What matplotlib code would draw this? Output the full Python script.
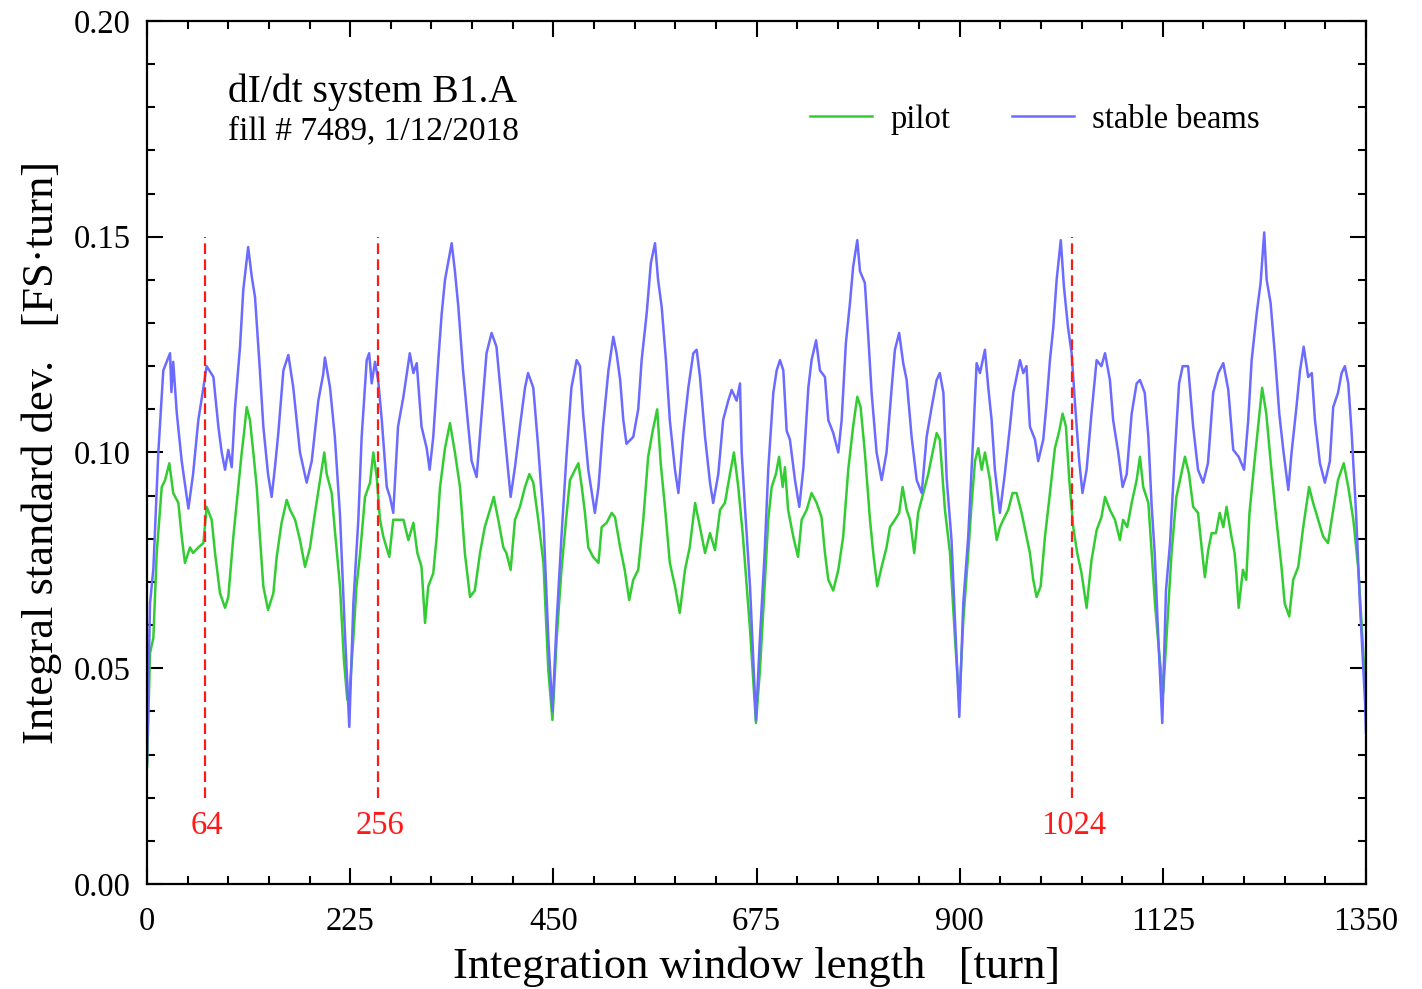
import matplotlib
matplotlib.use("Agg")
import matplotlib.pyplot as plt
from matplotlib.ticker import MultipleLocator

plt.rcParams['font.family'] = ['Liberation Serif', 'DejaVu Serif']

# stable beams (blue)
stable_x = [0, 3.3, 7, 12.5, 18, 25.5, 27, 29, 33, 38.4, 45.8, 51, 56.8, 62.4, 66, 73.5, 79, 82.7,
            86.4, 90, 93.8, 97.5, 103, 106.6, 112, 116, 119.6, 125, 128.8, 134, 138, 141.7, 145.4,
            151, 156.5, 162, 169.4, 176.8, 182.4, 189.7, 195, 197, 202.7, 208, 213.7, 219, 224,
            228.5, 234, 237.7, 243.3, 246, 248.8, 252.5, 256, 260, 265.5, 269, 272.7, 278, 284,
            291, 295, 298.7, 304, 309.7, 313, 317, 322.6, 326.4, 330, 337.4, 341, 344.8, 350,
            355.8, 359.5, 365, 370.6, 376, 381.6, 387, 392.8, 398, 402.7, 407.5, 413, 418.6, 422,
            427.8, 433.3, 439, 444.4, 449, 453.7, 459, 464.8, 470, 475.8, 479.5, 483, 488.7, 496,
            500, 505, 511, 516.4, 520, 524, 527.5, 531, 538.5, 544, 547.8, 553.4, 558, 562.6, 566,
            570, 574.7, 579, 584.7, 588.5, 594, 599.5, 605, 608.7, 612.4, 618, 623.5, 627, 632.7,
            638, 643.7, 647.5, 653, 656.7, 658.6, 662, 667.8, 674.4, 678.8, 684, 688, 693.6, 697.3,
            701, 704.7, 708.4, 712, 717.6, 722.4, 727, 732.4, 736, 741, 745.3, 750.8, 754.5, 760,
            765.6, 769.3, 774, 778.5, 782, 786.6, 789.6, 795, 798.8, 802.5, 808, 813.6, 819, 824.7,
            828.3, 833, 837.5, 841.3, 846.8, 852.4, 858, 863.4, 869, 874.5, 878, 882, 885.6, 891,
            894.8, 899.6, 904, 909.5, 915, 918.8, 922.5, 928, 931.7, 935.4, 939, 944.6, 950, 955.7,
            959.4, 966.8, 970.5, 974, 977.8, 983.4, 987, 992.6, 996.3, 1000, 1003.7, 1007.4, 1012,
            1015.5, 1020, 1024, 1027.7, 1032.4, 1036, 1040.6, 1046, 1051.7, 1057, 1061, 1066.4,
            1070, 1075.6, 1080.5, 1085, 1090.5, 1096, 1099.7, 1105, 1109, 1112.7, 1116, 1120,
            1124.4, 1128.5, 1133, 1138.4, 1143, 1147, 1153, 1158.6, 1164, 1169.7, 1175, 1180.8,
            1186.4, 1192, 1197.5, 1203, 1209, 1215, 1219.6, 1223.4, 1229, 1233.3, 1237.3, 1240,
            1244.4, 1249, 1254, 1258.4, 1264, 1267.6, 1273, 1277, 1281, 1286, 1290, 1293.5, 1299,
            1304.5, 1310, 1313.7, 1319, 1323, 1326.6, 1330.4, 1334, 1339, 1343.3, 1349, 1350]
stable_y = [0.028, 0.065, 0.073, 0.100, 0.119, 0.123, 0.114, 0.121, 0.109, 0.098, 0.087, 0.095,
            0.1075, 0.115, 0.120, 0.1175, 0.106, 0.100, 0.096, 0.1006, 0.0966, 0.1105, 0.1245,
            0.1377, 0.1476, 0.1407, 0.136, 0.119, 0.106, 0.095, 0.0897, 0.0966, 0.1045, 0.119,
            0.1226, 0.115, 0.100, 0.093, 0.098, 0.112, 0.118, 0.122, 0.115, 0.1036, 0.0855, 0.059,
            0.0364, 0.065, 0.0844, 0.1036, 0.1214, 0.123, 0.116, 0.121, 0.1168, 0.1075, 0.092,
            0.0897, 0.086, 0.106, 0.113, 0.123, 0.1184, 0.1207, 0.106, 0.101, 0.096, 0.1036,
            0.1214, 0.1323, 0.140, 0.1485, 0.142, 0.1337, 0.119, 0.106, 0.098, 0.0943, 0.109,
            0.123, 0.1277, 0.1245, 0.1115, 0.100, 0.0897, 0.0966, 0.106, 0.115, 0.1184, 0.115,
            0.101, 0.0844, 0.057, 0.040, 0.061, 0.0805, 0.100, 0.115, 0.1214, 0.120, 0.109, 0.096,
            0.086, 0.092, 0.106, 0.119, 0.1268, 0.123, 0.1168, 0.1075, 0.102, 0.1036, 0.110,
            0.1214, 0.1323, 0.1439, 0.1485, 0.140, 0.1337, 0.1214, 0.1075, 0.096, 0.0906, 0.1045,
            0.115, 0.123, 0.1238, 0.1175, 0.1036, 0.093, 0.0883, 0.095, 0.1075, 0.112, 0.1145,
            0.112, 0.116, 0.100, 0.088, 0.069, 0.038, 0.057, 0.0767, 0.096, 0.1138, 0.119, 0.1214,
            0.119, 0.105, 0.103, 0.0936, 0.0874, 0.0966, 0.115, 0.1214, 0.126, 0.119, 0.1175,
            0.1075, 0.1045, 0.100, 0.1075, 0.1254, 0.1346, 0.143, 0.1492, 0.142, 0.1393, 0.1268,
            0.1138, 0.100, 0.0936, 0.100, 0.115, 0.1238, 0.1277, 0.1207, 0.1168, 0.1036, 0.0936,
            0.0906, 0.1036, 0.1105, 0.1168, 0.1184, 0.1138, 0.094, 0.0797, 0.061, 0.0387, 0.065,
            0.0805, 0.1036, 0.1207, 0.1184, 0.1238, 0.115, 0.1075, 0.096, 0.086, 0.095, 0.106,
            0.1138, 0.1214, 0.1184, 0.120, 0.106, 0.103, 0.098, 0.103, 0.1115, 0.1214, 0.129,
            0.140, 0.1492, 0.1384, 0.129, 0.123, 0.1115, 0.098, 0.0906, 0.096, 0.109, 0.1214,
            0.120, 0.123, 0.1168, 0.1075, 0.100, 0.092, 0.095, 0.109, 0.116, 0.1168, 0.1138,
            0.1036, 0.0874, 0.0767, 0.057, 0.0373, 0.068, 0.079, 0.100, 0.116, 0.120, 0.120,
            0.106, 0.096, 0.093, 0.0975, 0.1138, 0.1184, 0.1207, 0.1145, 0.1006, 0.099, 0.096,
            0.1075, 0.1214, 0.1323, 0.1393, 0.151, 0.140, 0.1346, 0.123, 0.109, 0.1006, 0.0913,
            0.100, 0.1105, 0.119, 0.1245, 0.1175, 0.1184, 0.1075, 0.0975, 0.093, 0.098, 0.1105,
            0.1138, 0.1184, 0.120, 0.116, 0.105, 0.086, 0.065, 0.042, 0.035]

# pilot (green)
pilot_x = [0, 3.3, 7, 10.7, 16.3, 20, 24.7, 29, 34.7, 38.4, 42, 47.6, 51, 56.8, 62.4, 66, 71.6,
           75.3, 80.8, 86.4, 90, 95.6, 99.3, 104.9, 107.4, 110.4, 114, 117.7, 121.5, 125, 128.8,
           134, 139.9, 143.6, 149, 154.7, 158.4, 164, 169.4, 175, 180.5, 186, 191.6, 196.3, 199,
           204.5, 208, 213.7, 218, 221.8, 224.5, 228.5, 232, 236, 241.4, 247, 250.6, 254.4, 258,
           261.7, 268.3, 272.7, 278, 284, 289.4, 295, 299.4, 304, 307.9, 311.5, 317, 320.8, 324.5,
           330, 335.5, 341, 346.6, 352, 357.7, 363, 368.8, 374, 379.8, 384, 389, 394.6, 398,
           402.7, 407.5, 413, 418.6, 423.4, 427.8, 433.3, 439, 444.4, 449, 453.7, 459, 464.8,
           468.4, 474, 477.7, 481.5, 485, 488.7, 494, 500, 503.5, 509, 514.6, 518.3, 524, 529,
           534, 538.5, 544, 549.6, 555, 560, 565, 568.9, 573.6, 579, 584.7, 590, 595.8, 601, 607,
           612.4, 618, 623.5, 629, 634.6, 640, 645.6, 650, 654.8, 660, 667.8, 674.4, 678.8, 684,
           688, 691.8, 696.5, 700, 704, 706.5, 710, 715.7, 721, 725, 730.6, 736, 741.6, 747,
           750.8, 754.5, 760, 765.6, 771, 776.6, 782, 786.6, 790.3, 795, 800.7, 804.3, 808.7,
           813.6, 819, 822.8, 828.3, 833, 836.8, 841.3, 845, 849.7, 854, 859.7, 865.2, 870, 874.5,
           878, 883.7, 889.3, 894.8, 899.6, 904, 909.5, 913.3, 917, 920.6, 924.4, 928, 933.6,
           937.2, 941, 944.6, 948.3, 953.8, 958.6, 963, 968.6, 974, 977.8, 981.5, 985.2, 989.7,
           994.5, 1000, 1005.5, 1010.3, 1014, 1017.7, 1021.4, 1025.8, 1030.2, 1035, 1040.6, 1046,
           1051.7, 1057, 1061, 1066.4, 1072, 1077.5, 1081, 1085.6, 1090.5, 1096, 1099.7, 1103.3,
           1109, 1112.7, 1116.3, 1121, 1125.4, 1129, 1134.7, 1140, 1144.7, 1149.5, 1154, 1158.6,
           1164, 1168, 1171.6, 1175.3, 1179, 1183.8, 1188, 1192, 1195.6, 1201, 1204.5, 1206.4,
           1209, 1213.7, 1217.4, 1221, 1226.6, 1231.3, 1235, 1239.6, 1245, 1250.8, 1256.4, 1260,
           1265, 1269.4, 1275, 1280.5, 1287, 1291.5, 1297, 1302.6, 1308, 1313.7, 1319, 1325.4,
           1330.4, 1336, 1341.6, 1347, 1350]
pilot_y = [0.027, 0.0535, 0.057, 0.0767, 0.092, 0.0936, 0.0975, 0.0906, 0.0883, 0.0805, 0.0744,
           0.078, 0.0767, 0.078, 0.079, 0.0874, 0.0844, 0.0767, 0.0674, 0.064, 0.0665, 0.0805,
           0.0883, 0.100, 0.1045, 0.1105, 0.1075, 0.100, 0.092, 0.0805, 0.069, 0.0635, 0.0674,
           0.0758, 0.0837, 0.089, 0.0867, 0.0844, 0.0797, 0.0735, 0.078, 0.086, 0.0936, 0.100,
           0.095, 0.0906, 0.082, 0.069, 0.052, 0.0427, 0.045, 0.057, 0.069, 0.0767, 0.0897, 0.093,
           0.100, 0.0943, 0.0844, 0.0805, 0.0758, 0.0844, 0.0844, 0.0844, 0.0797, 0.0837, 0.0767,
           0.0735, 0.0605, 0.069, 0.072, 0.0805, 0.092, 0.101, 0.1068, 0.100, 0.092, 0.0767,
           0.0665, 0.068, 0.0767, 0.0827, 0.0867, 0.0897, 0.0844, 0.078, 0.0767, 0.0728, 0.0844,
           0.0874, 0.092, 0.095, 0.093, 0.0844, 0.0745, 0.0496, 0.038, 0.057, 0.0728, 0.086,
           0.0936, 0.096, 0.0975, 0.092, 0.086, 0.078, 0.0758, 0.0744, 0.0827, 0.0837, 0.086,
           0.085, 0.078, 0.0728, 0.0658, 0.0705, 0.0728, 0.0844, 0.099, 0.105, 0.110, 0.0975,
           0.0874, 0.0744, 0.069, 0.0628, 0.0728, 0.078, 0.0883, 0.0827, 0.0767, 0.0813, 0.0774,
           0.0867, 0.0883, 0.095, 0.100, 0.092, 0.0805, 0.059, 0.0373, 0.0496, 0.069, 0.0844,
           0.092, 0.095, 0.099, 0.092, 0.0966, 0.0867, 0.0805, 0.0758, 0.0844, 0.0867, 0.0906,
           0.0883, 0.085, 0.0767, 0.0705, 0.068, 0.0728, 0.0805, 0.096, 0.106, 0.1129, 0.1105,
           0.100, 0.0844, 0.0767, 0.069, 0.0735, 0.078, 0.0827, 0.0844, 0.086, 0.092, 0.0867,
           0.0844, 0.0767, 0.086, 0.0906, 0.095, 0.100, 0.1045, 0.103, 0.0867, 0.0767, 0.057,
           0.042, 0.061, 0.0767, 0.0883, 0.098, 0.101, 0.096, 0.100, 0.0936, 0.086, 0.0797,
           0.0827, 0.0844, 0.0867, 0.0906, 0.0906, 0.086, 0.0805, 0.0767, 0.0705, 0.0665, 0.069,
           0.0805, 0.0906, 0.101, 0.105, 0.109, 0.106, 0.0936, 0.0827, 0.0767, 0.072, 0.064,
           0.075, 0.082, 0.085, 0.0897, 0.0867, 0.0844, 0.0797, 0.0844, 0.0827, 0.0883, 0.0936,
           0.099, 0.092, 0.0883, 0.0767, 0.065, 0.0535, 0.0443, 0.057, 0.0767, 0.0897, 0.0943,
           0.099, 0.095, 0.0874, 0.086, 0.078, 0.0711, 0.0774, 0.0813, 0.0813, 0.086, 0.0827,
           0.0874, 0.0805, 0.0767, 0.072, 0.064, 0.0728, 0.0705, 0.086, 0.098, 0.1075, 0.115,
           0.109, 0.0966, 0.0844, 0.0735, 0.065, 0.062, 0.0705, 0.0735, 0.0827, 0.092, 0.0883,
           0.0844, 0.0805, 0.079, 0.0867, 0.0936, 0.0975, 0.092, 0.0844, 0.0728, 0.0535, 0.043]

marks = [64, 256, 1024]
mark_labels = ["64", "256", "1024"]

fig = plt.figure(figsize=(14.22, 9.89), dpi=100)
ax = fig.add_axes([0.1034, 0.1062, 0.8572, 0.8726])

ax.plot(pilot_x, pilot_y, color='#33cc33', lw=1.8, label='pilot')
ax.plot(stable_x, stable_y, color='#6b6bff', lw=1.8, label='stable beams')

for m, lab in zip(marks, mark_labels):
    ax.plot([m, m], [0.02, 0.15], color='#ff1a1a', lw=1.6, dashes=(4.8, 2.4))
    ax.text(m + 2, 0.0135, lab, color='#ff1a1a', fontsize=23.5, ha='center', va='center')

ax.set_xlim(0, 1350)
ax.set_ylim(0, 0.20)
ax.xaxis.set_major_locator(MultipleLocator(225))
ax.xaxis.set_minor_locator(MultipleLocator(45))
ax.yaxis.set_major_locator(MultipleLocator(0.05))
ax.yaxis.set_minor_locator(MultipleLocator(0.01))
ax.yaxis.set_major_formatter(plt.FuncFormatter(lambda v, p: "%.2f" % v))
ax.tick_params(which='both', direction='in', top=True, right=True, width=1.5)
ax.tick_params(which='major', length=11.5, labelsize=23.5)
ax.tick_params(which='minor', length=5.8)
ax.tick_params(axis='x', which='major', pad=16)
ax.tick_params(axis='y', which='major', pad=12)
for s in ax.spines.values():
    s.set_linewidth(1.6)

ax.set_xlabel('Integration window length   [turn]', fontsize=32, labelpad=7)
ax.set_ylabel('Integral standard dev.   [FS·turn]', fontsize=32, labelpad=8)

ax.text(0.0665, 0.917, 'dI/dt system B1.A', transform=ax.transAxes, fontsize=28.5, va='center')
ax.text(0.0665, 0.872, 'fill # 7489, 1/12/2018', transform=ax.transAxes, fontsize=24, va='center')

ax.legend(loc='center right', bbox_to_anchor=(0.913, 0.886), ncol=2, frameon=False,
          fontsize=23.5, handlelength=1.9, handletextpad=0.55, columnspacing=1.9,
          borderpad=0, borderaxespad=0)

fig.savefig('out.png', dpi=100)
